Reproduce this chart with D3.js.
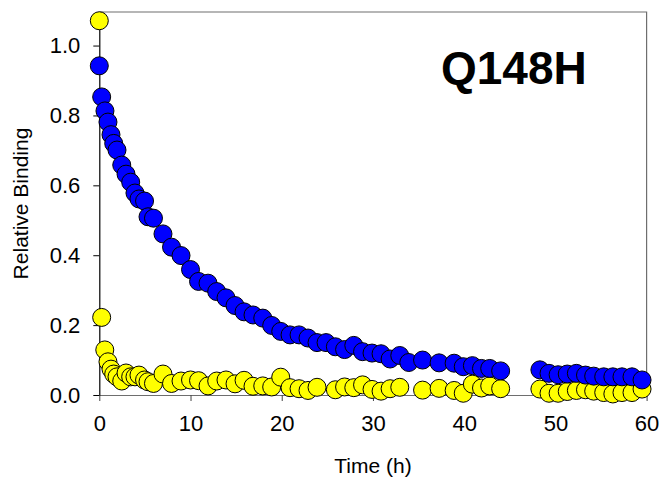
<!DOCTYPE html>
<html>
<head>
<meta charset="utf-8">
<script src="https://cdn.jsdelivr.net/npm/d3@7"></script>
<style>
  html, body { margin: 0; padding: 0; background: #fff; }
  svg { display: block; font-family: Arial, "Liberation Sans", sans-serif; }
</style>
</head>
<body>
<svg id="chart" width="662" height="478"></svg>
<script>
// Sampling times (h) of the binding measurements
const timeBlue = [0, 0.26, 0.62, 0.95, 1.28, 1.58, 1.94, 2.46, 2.93, 3.44, 3.91, 4.35, 4.96, 5.34, 5.94,
  6.98, 7.92, 8.96, 10.0, 10.88, 11.92, 12.87, 13.89, 14.88, 15.87, 16.85, 17.92, 18.9, 19.89,
  20.91, 21.9, 22.88, 23.87, 24.86, 25.88, 26.89, 27.9, 28.86, 29.9, 30.89, 31.88, 32.94, 33.93,
  35.44, 37.25, 38.9, 39.9, 40.9, 41.9, 42.8, 44.0,
  48.3, 49.3, 50.3, 51.3, 52.3, 53.3, 54.2, 55.3, 56.3, 57.3, 58.4, 59.5];
const bindingBlue = [0.942, 0.853, 0.813, 0.781, 0.745, 0.720, 0.701, 0.658, 0.632, 0.609, 0.578, 0.561, 0.555, 0.510, 0.506,
  0.461, 0.423, 0.399, 0.359, 0.325, 0.320, 0.296, 0.278, 0.256, 0.238, 0.229, 0.220, 0.199, 0.182,
  0.172, 0.172, 0.163, 0.150, 0.150, 0.138, 0.130, 0.142, 0.124, 0.120, 0.118, 0.103, 0.113, 0.093,
  0.100, 0.092, 0.091, 0.081, 0.084, 0.076, 0.076, 0.069,
  0.072, 0.062, 0.058, 0.060, 0.062, 0.057, 0.054, 0.052, 0.052, 0.052, 0.052, 0.043];

const timeYellow = [0, 0.26, 0.6, 0.95, 1.28, 1.58, 1.94, 2.46, 2.93, 3.44, 3.91, 4.35, 4.96, 5.34, 5.94,
  6.98, 7.92, 8.96, 10.0, 10.88, 11.92, 12.87, 13.89, 14.88, 15.87, 16.85, 17.92, 18.9, 19.89,
  20.91, 21.9, 22.88, 23.87, 25.88, 26.89, 27.9, 28.86, 29.9, 30.89, 31.88, 32.94,
  35.44, 37.25, 38.9, 39.9, 40.9, 41.9, 42.8, 44.0,
  48.3, 49.3, 50.3, 51.3, 52.3, 53.3, 54.2, 55.3, 56.3, 57.3, 58.4, 59.5];
const bindingYellow = [1.071, 0.222, 0.129, 0.095, 0.074, 0.060, 0.052, 0.040, 0.063, 0.052, 0.052, 0.057, 0.043, 0.038, 0.033,
  0.060, 0.033, 0.040, 0.043, 0.041, 0.026, 0.040, 0.043, 0.032, 0.042, 0.025, 0.026, 0.023, 0.051,
  0.021, 0.018, 0.013, 0.022, 0.015, 0.023, 0.021, 0.029, 0.016, 0.011, 0.018, 0.022,
  0.014, 0.019, 0.013, 0.005, 0.031, 0.020, 0.026, 0.018,
  0.017, 0.005, 0.005, 0.010, 0.013, 0.015, 0.011, 0.007, 0.003, 0.007, 0.007, 0.017];

const xTicks = [0, 10, 20, 30, 40, 50, 60];
const yTicks = [0.0, 0.2, 0.4, 0.6, 0.8, 1.0];
const titleText = "Q148H";
const xLabel = "Time (h)";
const yLabel = "Relative Binding";

const svg = d3.select("#chart");
const plot = { left: 99.3, right: 646.6, top: 12, bottom: 395 };

const x = d3.scaleLinear().domain([0, 60]).range([plot.left, plot.right]);
const y = d3.scaleLinear().domain([0, 1.096]).range([plot.bottom, plot.top]);

// frame: top and right edges
svg.append("path")
  .attr("d", `M${plot.left},${plot.top}H${plot.right}V${plot.bottom}`)
  .attr("fill", "none").attr("stroke", "#6e6e6e").attr("stroke-width", 1.2);

// x axis
const xAxis = svg.append("g")
  .attr("transform", `translate(0,${plot.bottom})`)
  .call(d3.axisBottom(x).tickValues(xTicks).tickFormat(d3.format("d")).tickSizeInner(6).tickSizeOuter(0).tickPadding(14));
xAxis.select(".domain").attr("stroke", "#6e6e6e").attr("stroke-width", 1.2);
xAxis.selectAll(".tick line").attr("stroke", "#444");
xAxis.selectAll("text").attr("font-size", 22).attr("fill", "#000")
  .attr("font-family", "Arial, 'Liberation Sans', sans-serif");

// y axis
const yAxis = svg.append("g")
  .attr("transform", `translate(${plot.left},0)`)
  .call(d3.axisLeft(y).tickValues(yTicks).tickFormat(d3.format(".1f")).tickSizeInner(6).tickSizeOuter(0).tickPadding(13));
yAxis.select(".domain").attr("stroke", "#000").attr("stroke-width", 1.2);
yAxis.selectAll(".tick line").attr("stroke", "#000");
yAxis.selectAll("text").attr("font-size", 22).attr("fill", "#000")
  .attr("font-family", "Arial, 'Liberation Sans', sans-serif");

// axis titles
svg.append("text")
  .attr("x", (plot.left + plot.right) / 2).attr("y", 473)
  .attr("text-anchor", "middle").attr("font-size", 21).text(xLabel);
svg.append("text")
  .attr("transform", `translate(28,${(plot.top + plot.bottom) / 2}) rotate(-90)`)
  .attr("text-anchor", "middle").attr("font-size", 21).text(yLabel);

// panel title
svg.append("text")
  .attr("x", 441).attr("y", 84)
  .attr("font-size", 46).attr("font-weight", "bold").text(titleText);

// data points: yellow series beneath, blue on top
const r = 9;
svg.append("g").selectAll("circle")
  .data(d3.zip(timeYellow, bindingYellow)).join("circle")
  .attr("cx", d => x(d[0])).attr("cy", d => y(d[1])).attr("r", r)
  .attr("fill", "#ffff00").attr("stroke", "#000").attr("stroke-width", 1);
svg.append("g").selectAll("circle")
  .data(d3.zip(timeBlue, bindingBlue)).join("circle")
  .attr("cx", d => x(d[0])).attr("cy", d => y(d[1])).attr("r", r)
  .attr("fill", "#0000ff").attr("stroke", "#000").attr("stroke-width", 1);
</script>
</body>
</html>
